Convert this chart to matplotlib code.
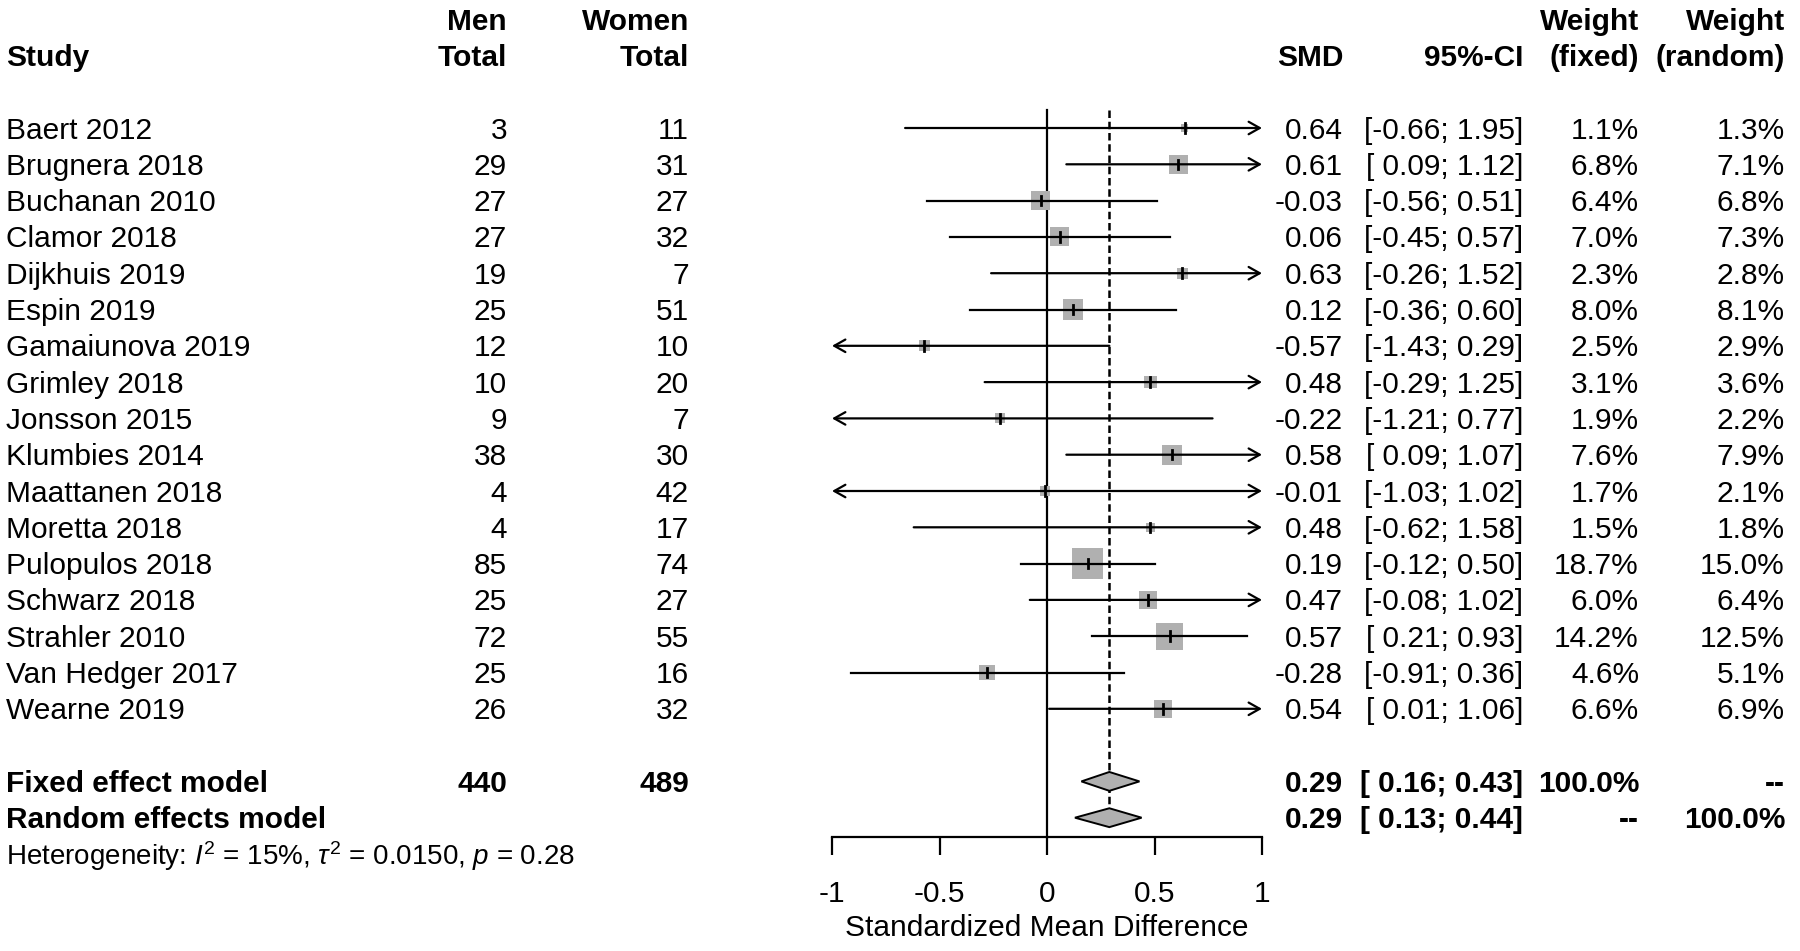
import matplotlib
matplotlib.use('Agg')
import matplotlib.pyplot as plt
from matplotlib.patches import Rectangle, Polygon
from matplotlib.transforms import blended_transform_factory
import numpy as np

plt.rcParams['font.family'] = ['Liberation Sans', 'DejaVu Sans']
plt.rcParams['mathtext.fontset'] = 'custom'
plt.rcParams['mathtext.rm'] = 'Liberation Sans'
plt.rcParams['mathtext.it'] = 'Liberation Sans:italic'

studies = ['Baert 2012', 'Brugnera 2018', 'Buchanan 2010', 'Clamor 2018', 'Dijkhuis 2019',
           'Espin 2019', 'Gamaiunova 2019', 'Grimley 2018', 'Jonsson 2015', 'Klumbies 2014',
           'Maattanen 2018', 'Moretta 2018', 'Pulopulos 2018', 'Schwarz 2018', 'Strahler 2010',
           'Van Hedger 2017', 'Wearne 2019']
men = [3, 29, 27, 27, 19, 25, 12, 10, 9, 38, 4, 4, 85, 25, 72, 25, 26]
women = [11, 31, 27, 32, 7, 51, 10, 20, 7, 30, 42, 17, 74, 27, 55, 16, 32]
smd = [0.64, 0.61, -0.03, 0.06, 0.63, 0.12, -0.57, 0.48, -0.22, 0.58, -0.01, 0.48, 0.19, 0.47, 0.57, -0.28, 0.54]
ci_lo = [-0.66, 0.09, -0.56, -0.45, -0.26, -0.36, -1.43, -0.29, -1.21, 0.09, -1.03, -0.62, -0.12, -0.08, 0.21, -0.91, 0.01]
ci_hi = [1.95, 1.12, 0.51, 0.57, 1.52, 0.60, 0.29, 1.25, 0.77, 1.07, 1.02, 1.58, 0.50, 1.02, 0.93, 0.36, 1.06]
w_fixed = [1.1, 6.8, 6.4, 7.0, 2.3, 8.0, 2.5, 3.1, 1.9, 7.6, 1.7, 1.5, 18.7, 6.0, 14.2, 4.6, 6.6]
w_random = [1.3, 7.1, 6.8, 7.3, 2.8, 8.1, 2.9, 3.6, 2.2, 7.9, 2.1, 1.8, 15.0, 6.4, 12.5, 5.1, 6.9]

fixed_est, fixed_lo, fixed_hi = 0.29, 0.16, 0.43
random_est, random_lo, random_hi = 0.29, 0.13, 0.44
men_total, women_total = 440, 489

W, H = 1800, 951
px_unit = 215.0   # pixels per SMD unit
row_h = 36.3      # pixels per row
fs = 21.5
grey = '#b0b0b0'
dy = 0.07         # nudge text down a little so it sits like the original

fig = plt.figure(figsize=(18, 9.51), dpi=100)
ax = fig.add_axes([832 / W, (H - 837) / H, 430 / W, 837 / H])
ax.set_xlim(-1, 1)
ax.set_ylim((837 - 128) / row_h, -128 / row_h)
for s in ['top', 'right', 'left']:
    ax.spines[s].set_visible(False)
ax.spines['bottom'].set_linewidth(1.6)
ax.set_yticks([])
ax.set_xticks([-1, -0.5, 0, 0.5, 1])
ax.set_xticklabels(['-1', '-0.5', '0', '0.5', '1'])
ax.tick_params(axis='x', direction='out', length=13, width=1.6, labelsize=fs, pad=18)
ax.set_xlabel('Standardized Mean Difference', fontsize=fs, labelpad=4)

n = len(studies)
rows = np.arange(n)
i_fixed, i_random, i_het = n + 1, n + 2, n + 3

# reference lines
ax.plot([0, 0], [-0.5, (837 - 128) / row_h], color='black', lw=1.6, clip_on=False)
ax.plot([fixed_est, fixed_est], [-0.5, i_random - 0.26], color='black', lw=1.8,
        linestyle=(0, (3, 1.5)), clip_on=False, zorder=1)

# study rows
for i in rows:
    lo, hi, est = ci_lo[i], ci_hi[i], smd[i]
    side = 7.2 * np.sqrt(w_fixed[i])
    ax.add_patch(Rectangle((est - side / 2 / px_unit, i - side / 2 / row_h),
                           side / px_unit, side / row_h, facecolor=grey,
                           edgecolor='none', zorder=2, clip_on=False))
    a, b = max(lo, -1), min(hi, 1)
    if lo < -1 and hi > 1:
        style = '<->'
    elif hi > 1:
        style = '->'
    elif lo < -1:
        style = '<-'
    else:
        style = None
    if style is None:
        ax.plot([a, b], [i, i], color='black', lw=1.6, zorder=3, clip_on=False)
    else:
        ax.annotate('', xy=(b, i), xytext=(a, i),
                    arrowprops=dict(arrowstyle=style + ',head_length=0.8,head_width=0.45',
                                    lw=1.6, color='black', shrinkA=0, shrinkB=0),
                    zorder=3, annotation_clip=False)
    ax.plot([est, est], [i - 0.13, i + 0.13], color='black', lw=2, zorder=4, clip_on=False)

# diamonds
for yi, est, lo, hi in [(i_fixed, fixed_est, fixed_lo, fixed_hi),
                        (i_random, random_est, random_lo, random_hi)]:
    ax.add_patch(Polygon([[lo, yi], [est, yi - 0.26], [hi, yi], [est, yi + 0.26]],
                         closed=True, facecolor=grey, edgecolor='black', lw=1.4,
                         zorder=5, clip_on=False))

# text columns
tr = blended_transform_factory(fig.transFigure, ax.transData)
x_study, x_men, x_women = 6 / W, 507 / W, 689 / W
x_smd, x_ci, x_wf, x_wr = 1343 / W, 1523 / W, 1639 / W, 1785 / W


def put(x, y, s, ha='right', bold=False, size=fs):
    ax.text(x, y + dy, s, transform=tr, ha=ha, va='center', fontsize=size,
            fontweight='bold' if bold else 'normal', clip_on=False)


put(x_men, -3, 'Men', bold=True)
put(x_women, -3, 'Women', bold=True)
put(x_wf, -3, 'Weight', bold=True)
put(x_wr, -3, 'Weight', bold=True)
put(x_study, -2, 'Study', ha='left', bold=True)
put(x_men, -2, 'Total', bold=True)
put(x_women, -2, 'Total', bold=True)
put(x_smd, -2, 'SMD', bold=True)
put(x_ci, -2, '95%-CI', bold=True)
put(x_wf, -2, '(fixed)', bold=True)
put(x_wr, -2, '(random)', bold=True)

for i in rows:
    put(x_study, i, studies[i], ha='left')
    put(x_men, i, str(men[i]))
    put(x_women, i, str(women[i]))
    put(x_smd, i, f'{smd[i]:.2f}')
    put(x_ci, i, f'[{ci_lo[i]:5.2f};{ci_hi[i]:5.2f}]')
    put(x_wf, i, f'{w_fixed[i]:.1f}%')
    put(x_wr, i, f'{w_random[i]:.1f}%')

put(x_study, i_fixed, 'Fixed effect model', ha='left', bold=True)
put(x_men, i_fixed, str(men_total), bold=True)
put(x_women, i_fixed, str(women_total), bold=True)
put(x_smd, i_fixed, f'{fixed_est:.2f}', bold=True)
put(x_ci, i_fixed, f'[{fixed_lo:5.2f};{fixed_hi:5.2f}]', bold=True)
put(x_wf, i_fixed, '100.0%', bold=True)
put(x_wr, i_fixed, '--', bold=True)

put(x_study, i_random, 'Random effects model', ha='left', bold=True)
put(x_smd, i_random, f'{random_est:.2f}', bold=True)
put(x_ci, i_random, f'[{random_lo:5.2f};{random_hi:5.2f}]', bold=True)
put(x_wf, i_random, '--', bold=True)
put(x_wr, i_random, '100.0%', bold=True)

put(x_study, i_het, r'Heterogeneity: $I^2$ = 15%, $\tau^2$ = 0.0150, $p$ = 0.28',
    ha='left', size=20)

fig.savefig('out.png', dpi=100, facecolor='white')
